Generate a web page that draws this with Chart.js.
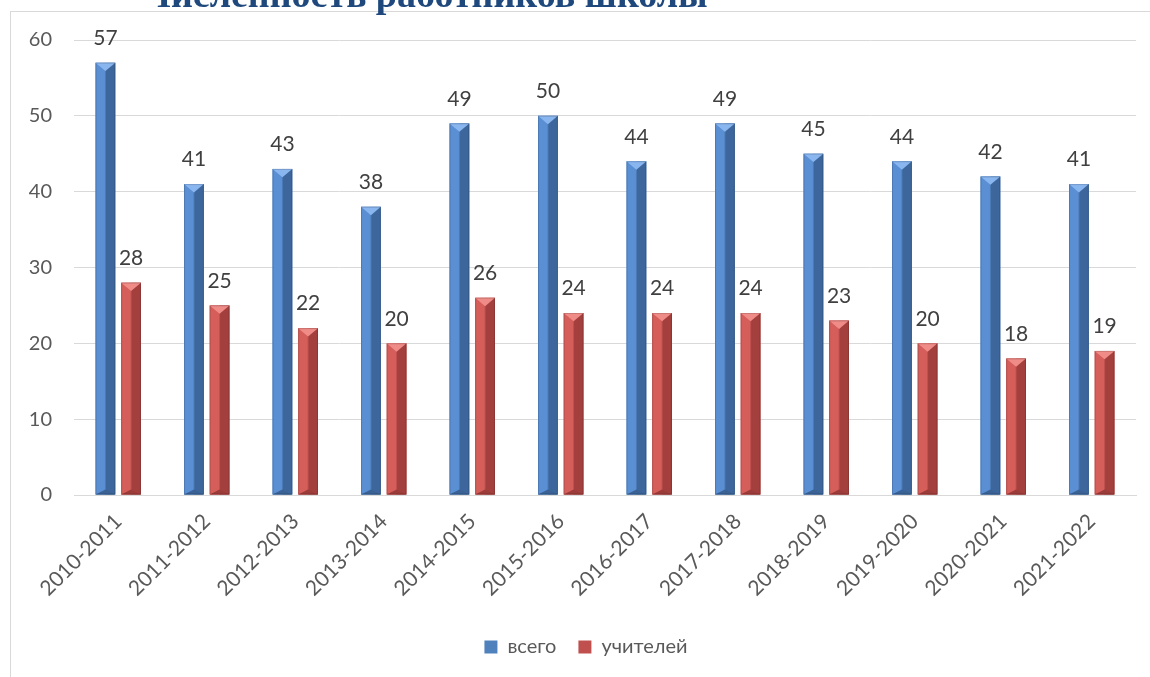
<!DOCTYPE html>
<html>
<head>
<meta charset="utf-8">
<script src="https://cdn.jsdelivr.net/npm/chart.js@4"></script>
<style>
  html, body { margin: 0; padding: 0; background: #fff; overflow: hidden; }
  #wrap { position: relative; width: 1150px; height: 677px; }
  #frame { position: absolute; left: 10px; top: 11px; width: 1200px; height: 700px;
           border-left: 1px solid #d9d9d9; border-top: 1px solid #d9d9d9; }
  #title { position: absolute; left: 143px; top: -25px; margin: 0; white-space: nowrap;
           font: bold 38px/38px "Liberation Serif", "Times New Roman", serif; color: #1f497d; }
  #box { position: absolute; left: 0; top: 0; width: 1150px; height: 677px; }
</style>
</head>
<body>
<div id="wrap">
  <div id="frame"></div>
  <div id="box"><canvas id="chart"></canvas></div>
  <h1 id="title">Численность работников школы</h1>
</div>
<script>
const years = ['2010-2011', '2011-2012', '2012-2013', '2013-2014', '2014-2015', '2015-2016',
               '2016-2017', '2017-2018', '2018-2019', '2019-2020', '2020-2021', '2021-2022'];
const total = [57, 41, 43, 38, 49, 50, 44, 49, 45, 44, 42, 41];
const teachers = [28, 25, 22, 20, 26, 24, 24, 24, 23, 20, 18, 19];

const FONT = 'Lato, "Open Sans", sans-serif';

// shades for the bevelled bars: left, right, top cap, bottom
const shades = [
  { left: '#5b8fd4', right: '#3d679c', top: '#8ab6f0', bottom: '#3a6294' },
  { left: '#d55e5a', right: '#a3403e', top: '#f08c88', bottom: '#9c3c3a' }
];

const bevel = {
  id: 'bevel',
  afterDatasetsDraw(chart) {
    const ctx = chart.ctx;
    chart.data.datasets.forEach((ds, i) => {
      const s = shades[i];
      chart.getDatasetMeta(i).data.forEach((bar, j) => {
        const w = bar.width, l = bar.x - w / 2, r = bar.x + w / 2;
        const top = bar.y, base = bar.base;
        const g = ctx.createLinearGradient(l, 0, r, 0);
        g.addColorStop(0, s.left);
        g.addColorStop(0.45, s.left);
        g.addColorStop(0.55, s.right);
        g.addColorStop(1, s.right);
        ctx.save();
        ctx.fillStyle = g;
        ctx.fillRect(l, top, w, base - top);
        const cap = w * 0.42;
        ctx.fillStyle = s.top;
        ctx.beginPath();
        ctx.moveTo(l, top); ctx.lineTo(r, top); ctx.lineTo(bar.x, top + cap); ctx.closePath();
        ctx.fill();
        ctx.fillStyle = s.bottom;
        ctx.beginPath();
        ctx.moveTo(l, base); ctx.lineTo(r, base); ctx.lineTo(bar.x, base - cap * 0.6); ctx.closePath();
        ctx.fill();
        ctx.strokeStyle = 'rgba(0,0,0,0.15)';
        ctx.lineWidth = 1;
        ctx.strokeRect(l + 0.5, top + 0.5, w - 1, base - top - 1);
        // value label
        ctx.fillStyle = '#404040';
        ctx.font = '21px ' + FONT;
        ctx.textAlign = 'center';
        ctx.textBaseline = 'bottom';
        ctx.fillText(ds.data[j], bar.x, top - 14);
        ctx.restore();
      });
    });
  }
};

// legend sits a bit right of centre in the original
const legendNudge = {
  id: 'legendNudge',
  afterLayout(chart) {
    chart.legend.left += 18;
    chart.legend.right += 18;
  }
};

new Chart(document.getElementById('chart'), {
  type: 'bar',
  data: {
    labels: years,
    datasets: [
      { label: 'всего', data: total, backgroundColor: '#4f81bd' },
      { label: 'учителей', data: teachers, backgroundColor: '#c0504d' }
    ]
  },
  options: {
    responsive: true,
    maintainAspectRatio: false,
    animation: false,
    categoryPercentage: 0.58,
    barPercentage: 0.77,
    layout: { padding: { left: 0, right: 14, top: 40, bottom: 10 } },
    plugins: {
      title: { display: false },
      tooltip: { enabled: false },
      legend: {
        position: 'bottom',
        labels: {
          boxWidth: 13, boxHeight: 13, padding: 22,
          color: '#595959', font: { family: FONT, size: 20 }
        }
      }
    },
    scales: {
      x: {
        grid: { display: false },
        border: { color: '#d9d9d9' },
        ticks: { color: '#595959', font: { family: FONT, size: 21 }, minRotation: 45, maxRotation: 45, padding: 6 },
        afterFit(axis) { axis.height = 120; }
      },
      y: {
        min: 0, max: 60,
        ticks: { stepSize: 10, color: '#595959', font: { family: FONT, size: 20 }, padding: 22 },
        grid: { color: '#d9d9d9', drawTicks: false },
        border: { display: false },
        afterFit(axis) { axis.width = 74; }
      }
    }
  },
  plugins: [bevel, legendNudge]
});
</script>
</body>
</html>
